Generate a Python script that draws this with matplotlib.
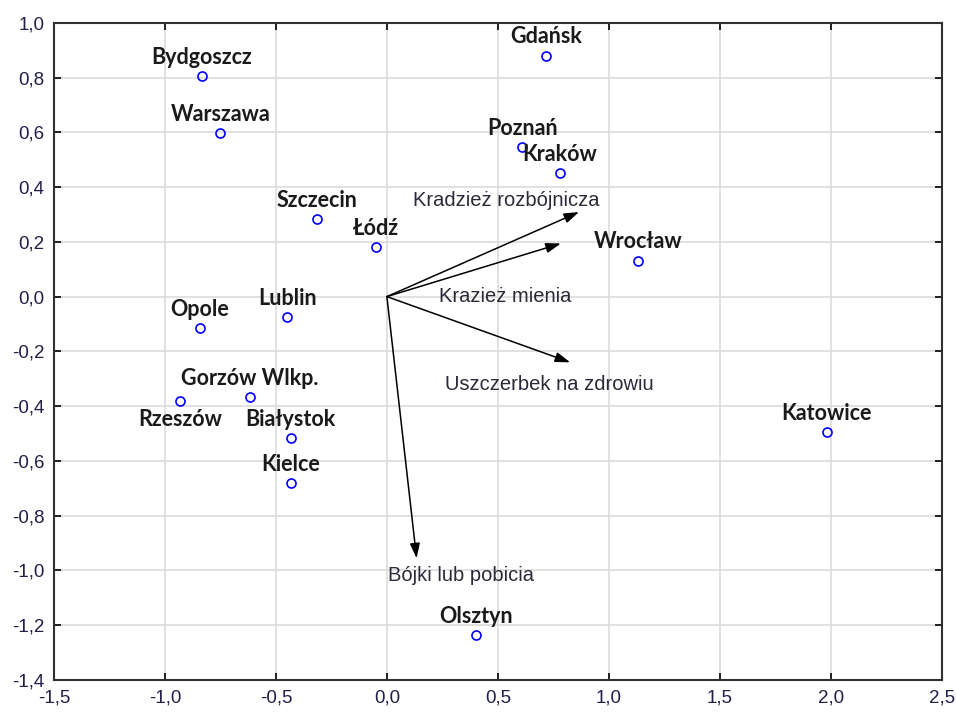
import matplotlib.pyplot as plt
from matplotlib.ticker import FuncFormatter

# city coordinates (first two dimensions)
cities = ["Bydgoszcz", "Warszawa", "Gdańsk", "Poznań", "Kraków", "Szczecin",
          "Łódź", "Wrocław", "Lublin", "Opole", "Gorzów Wlkp.", "Rzeszów",
          "Białystok", "Kielce", "Katowice", "Olsztyn"]
city_x = [-0.835, -0.751, 0.718, 0.611, 0.779, -0.317, -0.051, 1.131,
          -0.449, -0.842, -0.617, -0.932, -0.434, -0.434, 1.982, 0.400]
city_y = [0.805, 0.596, 0.880, 0.547, 0.450, 0.283, 0.182, 0.131,
          -0.074, -0.114, -0.368, -0.381, -0.516, -0.681, -0.494, -1.236]
label_below = ["Rzeszów"]

# crime type vectors
crimes = ["Kradzież rozbójnicza", "Krazież mienia", "Uszczerbek na zdrowiu", "Bójki lub pobicia"]
crime_x = [0.866, 0.784, 0.826, 0.134]
crime_y = [0.309, 0.194, -0.240, -0.956]
crime_lab_x = [0.54, 0.534, 0.732, 0.332]
crime_lab_y = [0.35, 0.0, -0.32, -1.017]

fig = plt.figure(figsize=(9.56, 7.12), dpi=100)
ax = fig.add_axes([0.0565, 0.045, 0.9285, 0.923])

ax.plot(city_x, city_y, "o", mfc="none", mec="#0000ff", ms=6.5, mew=1.2, zorder=3)
for name, x, y in zip(cities, city_x, city_y):
    dy = -13.5 if name in label_below else 13.5
    ax.annotate(name, (x, y), xytext=(0, dy), textcoords="offset points",
                ha="center", va="center", fontsize=15.5, family="Lato",
                fontweight="bold", color="#1a1a1a")

for name, x, y, lx, ly in zip(crimes, crime_x, crime_y, crime_lab_x, crime_lab_y):
    ax.annotate("", xy=(x, y), xytext=(0, 0),
                arrowprops=dict(arrowstyle="-|>,head_length=0.9,head_width=0.3",
                                color="black", lw=1.1, shrinkA=0, shrinkB=0))
    ax.text(lx, ly, name, ha="center", va="center", fontsize=14.5,
            family="Liberation Sans", color="#2a2a3a")

ax.set_xlim(-1.5, 2.5)
ax.set_ylim(-1.4, 1.0)
ax.set_xticks([-1.5, -1.0, -0.5, 0.0, 0.5, 1.0, 1.5, 2.0, 2.5])
ax.set_yticks([-1.4, -1.2, -1.0, -0.8, -0.6, -0.4, -0.2, 0.0, 0.2, 0.4, 0.6, 0.8, 1.0])
comma = lambda v, p: ("%.1f" % v).replace(".", ",").replace("-0,0", "0,0")
ax.xaxis.set_major_formatter(FuncFormatter(comma))
ax.yaxis.set_major_formatter(FuncFormatter(comma))
ax.grid(True, color="#dcdcdc", lw=1.2)
ax.set_axisbelow(True)
ax.tick_params(direction="in", length=5, width=1.2, top=True, right=True,
               labelsize=13.5, labelcolor="#20204a", pad=7)
for lab in ax.get_xticklabels() + ax.get_yticklabels():
    lab.set_family("Liberation Sans")
for s in ax.spines.values():
    s.set_linewidth(1.5)
    s.set_color("#303030")

fig.savefig("out.png", dpi=100)
